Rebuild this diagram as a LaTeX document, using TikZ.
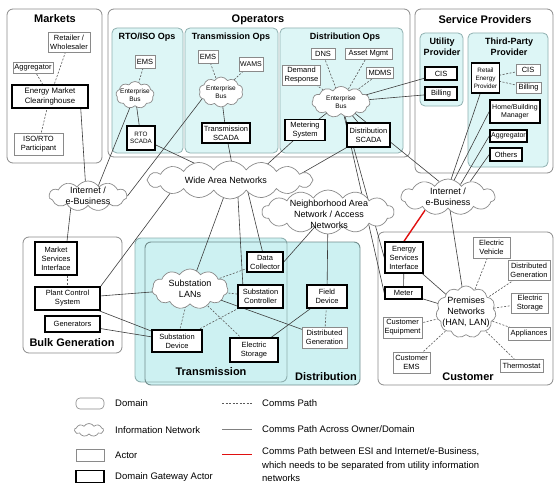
\documentclass[tikz,border=0pt]{standalone}
\usepackage{fontspec}
\setmainfont{Liberation Sans}
\usetikzlibrary{shapes.symbols,calc}
\pgfdeclarelayer{domains}
\pgfdeclarelayer{links}
\pgfsetlayers{domains,links,main}

\definecolor{domline}{HTML}{8A8A8A}
\definecolor{subfill}{HTML}{DDF6F6}
\definecolor{subline}{HTML}{8FB0B0}
\definecolor{tdfill}{HTML}{CDF1F2}
\definecolor{linkgray}{HTML}{3C3C3C}
\definecolor{dashgray}{HTML}{5A5A5A}
\definecolor{esired}{HTML}{E01010}

\tikzset{
  wh/.style 2 args={minimum width=#1pt, minimum height=#2pt},
  domainbox/.style={draw=domline, line width=0.8pt, rounded corners=6pt, fill=white},
  subbox/.style={draw=subline, line width=0.8pt, rounded corners=5pt, fill=subfill},
  domtitle/.style={font=\fontsize{11}{12}\selectfont\bfseries, inner sep=0pt},
  subtitle/.style={font=\fontsize{9}{10.5}\selectfont\bfseries, inner sep=0pt, align=center},
  actor/.style={draw=domline, line width=0.6pt, fill=white, inner sep=0pt, align=center,
    font=\fontsize{7.5}{9}\selectfont},
  gateway/.style={actor, draw=black, line width=1.5pt},
  small/.style={font=\fontsize{7}{8.6}\selectfont},
  netcloud/.style={cloud, cloud puffs=12, cloud puff arc=115, cloud ignores aspect,
    draw=domline, line width=0.7pt, fill=white, inner sep=0pt},
  cloudtext/.style={align=center, inner sep=0pt, font=\fontsize{9}{11}\selectfont},
  bustext/.style={align=center, inner sep=0pt, font=\fontsize{6.5}{8}\selectfont},
  link/.style={draw=linkgray, line width=0.6pt},
  comms/.style={draw=dashgray, line width=0.6pt, dash pattern=on 2pt off 1.5pt},
  esilink/.style={draw=esired, line width=1.4pt},
  legendtext/.style={anchor=west, inner sep=0pt, font=\fontsize{9.5}{13.5}\selectfont, align=left},
}

\begin{document}
\begin{tikzpicture}[x=1pt,y=-1pt]
\useasboundingbox (0,0) rectangle (554,487);

% ---------------- domains ----------------
\begin{pgfonlayer}{domains}
  \draw[domainbox] (7,9) rectangle (102,163);      % Markets
  \draw[domainbox] (108,9) rectangle (410,157);    % Operators
  \draw[subbox] (112,28) rectangle (183,153);
  \draw[subbox] (185,28) rectangle (278,153);
  \draw[subbox] (280,28) rectangle (403,153);
  \draw[domainbox] (415,9) rectangle (553,173);    % Service Providers
  \draw[subbox] (420,33) rectangle (463,106);
  \draw[subbox] (468,33) rectangle (548,167);
  \draw[domainbox] (23,237) rectangle (122,353);   % Bulk Generation
  \draw[domainbox] (378,232) rectangle (553,385);  % Customer
  % Transmission and Distribution overlap
  \fill[tdfill, rounded corners=6pt] (135,238) rectangle (287,382);
  \fill[tdfill, rounded corners=6pt] (145,242) rectangle (360,385);
  \draw[subline, line width=0.9pt, rounded corners=6pt] (135,238) rectangle (287,382);
  \draw[subline!80!black, line width=0.9pt, rounded corners=6pt] (145,242) rectangle (360,385);
\end{pgfonlayer}

% ---------------- titles ----------------
\node[domtitle] (t-markets) at (55,19) {Markets};
\node[domtitle] (t-ops) at (258,20) {Operators};
\node[subtitle] (t-rto) at (147,37) {RTO/ISO Ops};
\node[subtitle] (t-tops) at (231,37) {Transmission Ops};
\node[subtitle] (t-dops) at (345,37) {Distribution Ops};
\node[domtitle] (t-sp) at (485,20) {Service Providers};
\node[subtitle] (t-up) at (442,47) {Utility\\Provider};
\node[subtitle] (t-tp) at (509,47) {Third-Party\\Provider};
\node[domtitle] (t-bulk) at (72,343) {Bulk Generation};
\node[domtitle] (t-trans) at (211,372) {Transmission};
\node[domtitle] (t-dist) at (326,377) {Distribution};
\node[domtitle] (t-cust) at (468,377) {Customer};

% ---------------- Markets ----------------
\node[actor, wh={42}{20}] (ret) at (69,42) {Retailer /\\Wholesaler};
\node[actor, wh={40}{11}] (agg1) at (33,68) {Aggregator};
\node[gateway, wh={76}{23}, font=\fontsize{7.8}{9.6}\selectfont] (emc) at (50,96.5) {Energy Market\\Clearinghouse};
\node[actor, wh={49}{22}] (iso) at (38.5,144) {ISO/RTO\\Participant};

% ---------------- Operators ----------------
\node[actor, wh={20}{13}] (ems1) at (145,61.5) {EMS};
\node[netcloud, cloud puffs=9, wh={38}{27}] (bus1) at (135,95) {};
\node[bustext] (bus1-t) at (bus1) {Enterprise\\Bus};
\node[gateway, wh={28}{24}, font=\fontsize{6.3}{7.6}\selectfont] (rtoscada) at (141,138) {RTO\\SCADA};

\node[actor, wh={20}{13}] (ems2) at (208,56.5) {EMS};
\node[actor, small, wh={24}{14}] (wams) at (251,64) {WAMS};
\node[netcloud, cloud puffs=10, wh={44}{30}] (bus2) at (221,92) {};
\node[bustext] (bus2-t) at (bus2) {Enterprise\\Bus};
\node[gateway, wh={48}{20}] (tscada) at (226,133) {Transmission\\SCADA};

\node[actor, wh={24}{11}] (dns) at (323,54) {DNS};
\node[actor, wh={47}{11}] (asset) at (368.5,54) {Asset Mgmt};
\node[actor, wh={38}{20}] (dr) at (301.5,75) {Demand\\Response};
\node[actor, wh={27}{11}] (mdms) at (380,73) {MDMS};
\node[netcloud, cloud puffs=11, wh={58}{31}] (bus3) at (341,102) {};
\node[bustext] (bus3-t) at (bus3) {Enterprise\\Bus};
\node[gateway, wh={40}{21}] (msys) at (305,130) {Metering\\System};
\node[gateway, wh={43}{24}] (dscada) at (368.5,135) {Distribution\\SCADA};

% ---------------- Service Providers ----------------
\node[gateway, wh={32}{13}] (cis1) at (441,73.5) {CIS};
\node[gateway, wh={32}{13}] (bill1) at (441,93.5) {Billing};
\node[gateway, wh={28}{30}, font=\fontsize{6.3}{7.8}\selectfont] (rep) at (485.5,78) {Retail\\Energy\\Provider};
\node[actor, wh={24}{11}] (cis2) at (528,69.5) {CIS};
\node[actor, wh={25}{11}] (bill2) at (528.5,88) {Billing};
\node[gateway, small, wh={50}{23}] (hbm) at (515,111.5) {Home/Building\\Manager};
\node[gateway, small, wh={37}{12}] (agg2) at (508.5,136) {Aggregator};
\node[gateway, wh={32}{13}] (others) at (506,154.5) {Others};

% ---------------- information networks ----------------
\node[netcloud, cloud puffs=11, wh={78}{30}] (inet1) at (88,196) {};
\node[cloudtext] (inet1-t) at (inet1) {Internet /\\e-Business};
\node[netcloud, cloud puffs=11, wh={94}{36}] (inet2) at (448,197) {};
\node[cloudtext] (inet2-t) at (inet2) {Internet /\\e-Business};
\node[netcloud, cloud puffs=16, wh={166}{38}] (wan) at (230,180) {};
\node[cloudtext] (wan-t) at (226,180) {Wide Area Networks};
\node[netcloud, cloud puffs=14, wh={132}{44}] (nan) at (328,212) {};
\node[cloudtext] (nan-t) at (329,214) {Neighborhood Area\\Network / Access\\Networks};
\node[netcloud, cloud puffs=11, wh={76}{40}] (lans) at (190,289) {};
\node[cloudtext] (lans-t) at (lans) {Substation\\LANs};
\node[netcloud, cloud puffs=11, wh={60}{52}] (prem) at (466,312) {};
\node[cloudtext] (prem-t) at (prem) {Premises\\Networks\\(HAN, LAN)};

% ---------------- Bulk Generation ----------------
\node[gateway, wh={42}{33}] (msi) at (56,258.5) {Market\\Services\\Interface};
\node[gateway, wh={65}{23}] (pcs) at (67.5,298.5) {Plant Control\\System};
\node[gateway, wh={55}{16}] (gen) at (72.5,324) {Generators};

% ---------------- Transmission / Distribution ----------------
\node[gateway, wh={36}{20}] (dc) at (265,262) {Data\\Collector};
\node[gateway, wh={45}{23}] (sc) at (260.5,296.5) {Substation\\Controller};
\node[gateway, wh={40}{23}] (fd) at (327,296.5) {Field\\Device};
\node[gateway, wh={50}{22}] (sd) at (177,341) {Substation\\Device};
\node[gateway, wh={48}{24}] (es) at (254,350) {Electric\\Storage};
\node[actor, wh={45}{21}] (dg) at (324.5,337.5) {Distributed\\Generation};

% ---------------- Customer ----------------
\node[gateway, wh={38}{31}] (esi) at (404,257.5) {Energy\\Services\\Interface};
\node[gateway, wh={37}{12}] (meter) at (403.5,293) {Meter};
\node[actor, wh={37}{21}] (ev) at (491.5,247.5) {Electric\\Vehicle};
\node[actor, wh={42}{20}] (cdg) at (529,270) {Distributed\\Generation};
\node[actor, wh={37}{20}] (ces) at (530,303) {Electric\\Storage};
\node[actor, wh={42}{13}] (app) at (529,334) {Appliances};
\node[actor, wh={43}{13}] (thermo) at (521.5,366) {Thermostat};
\node[actor, wh={39}{21}] (ceq) at (402.5,327.5) {Customer\\Equipment};
\node[actor, wh={37}{21}] (cems) at (411.5,362.5) {Customer\\EMS};

% ---------------- connectors ----------------
\begin{pgfonlayer}{links}
  % comms paths inside a domain
  \draw[comms] (agg1.center) -- (emc.center);
  \draw[comms] (ret.center) -- (emc.center);
  \draw[comms] (emc.center) -- (iso.center);
  \draw[comms] (ems1.center) -- (bus1.center);
  \draw[comms] (ems2.center) -- (bus2.center);
  \draw[comms] (wams.center) -- (bus2.center);
  \draw[comms] (dns.center) -- (bus3.center);
  \draw[comms] (asset.center) -- (bus3.center);
  \draw[comms] (dr.center) -- (bus3.center);
  \draw[comms] (mdms.center) -- (bus3.center);
  \draw[comms] (rep.center) -- (cis2.center);
  \draw[comms] (rep.center) -- (bill2.center);
  \draw[comms] (msi.south -| pcs.north) -- (pcs.north);
  \draw[comms] (lans.center) -- (dc.center);
  \draw[comms] (lans.center) -- (sc.center);
  \draw[comms] (lans.center) -- (sd.center);
  \draw[comms] (lans.center) -- (es.center);
  \draw[comms] (sc.center) -- (sd.center);
  \draw[comms] (fd.center) -- (dg.center);
  \foreach \d in {ev,cdg,ces,app,thermo,ceq,cems}
    \draw[comms] (prem.center) -- (\d.center);

  % comms paths across owner / domain
  \draw[link] (bus1.center) -- (rtoscada.center);
  \draw[link] (bus2.center) -- (tscada.center);
  \draw[link] (bus3.center) -- (msys.center);
  \draw[link] (bus3.center) -- (dscada.center);
  \draw[link] ([xshift=-8pt]emc.south east) -- (inet1.100);
  \draw[link] (bus1.center) -- (inet1.45);
  \draw[link] (bus2.200) -- (inet1.east);
  \draw[link] ([xshift=-17pt]inet1.south) -- ([xshift=11pt]msi.north);
  \draw[link] (rtoscada.center) -- (wan.center);
  \draw[link] (tscada.center) -- ([xshift=5pt]wan.center);
  \draw[link] (msys.center) -- ([xshift=20pt]wan.center);
  \draw[link] (dscada.center) -- ([xshift=60pt]wan.center);
  \draw[link] (bus3.center) -- (cis1.center);
  \draw[link] (bus3.center) -- (bill1.center);
  \draw[link] (bus3.center) -- (inet2.120);
  \draw[link] (bus3.center) -- (esi.west);
  \draw[link] (bus3.center) -- (meter.west);
  \draw[link] (rep.center) -- (inet2.80);
  \draw[link] (hbm.west) -- (inet2.70);
  \draw[link] (agg2.west) -- (inet2.45);
  \draw[link] (others.west) -- (inet2.35);
  \draw[link] (inet2.center) -- (prem.center);
  \draw[link] ([xshift=-50pt]wan.center) -- (pcs.north east);
  \draw[link] (wan.center) -- (lans.center);
  \draw[link] ([xshift=7pt]wan.center) -- ([xshift=-17pt]sc.center);
  \draw[link] ([xshift=15pt]wan.center) -- (dc.center);
  \draw[link] (pcs.center) -- (lans.center);
  \draw[link] (pcs.center) -- (sd.center);
  \draw[link] (gen.center) -- (sd.center);
  \draw[link] (dc.east) -- (nan.center);
  \draw[link] (nan.center) -- (fd.center);
  \draw[link] (lans.center) -- (dg.center);
  \draw[link] (fd.center) -- (es.center);
  \draw[link] (esi.center) -- (meter.center);
  \draw[link] (esi.center) -- (prem.center);
  \draw[link] (meter.center) -- (prem.center);
  \draw[esilink] (inet2.210) -- (esi.north);
\end{pgfonlayer}

% ---------------- legend ----------------
\node[actor, rounded corners=4pt, wh={28}{11}] (lg-dom) at (90,403.5) {};
\node[netcloud, cloud puffs=9, wh={29}{13}] (lg-cloud) at (89,430) {};
\node[actor, wh={28}{12}] (lg-actor) at (90,455) {};
\node[gateway, wh={28}{12}] (lg-gate) at (90,476.5) {};
\node[legendtext] (lg-t1) at (115,403.5) {Domain};
\node[legendtext] (lg-t2) at (115,430) {Information Network};
\node[legendtext] (lg-t3) at (115,455) {Actor};
\node[legendtext] (lg-t4) at (115,477) {Domain Gateway Actor};

\coordinate (lg-p1) at (222,403.5);
\coordinate (lg-p2) at (252,403.5);
\coordinate (lg-q1) at (222,429.5);
\coordinate (lg-q2) at (252,429.5);
\coordinate (lg-r1) at (222,454.5);
\coordinate (lg-r2) at (252,454.5);
\draw[comms] (lg-p1) -- (lg-p2);
\draw[draw=gray, line width=1.3pt] (lg-q1) -- (lg-q2);
\draw[esilink] (lg-r1) -- (lg-r2);
\node[legendtext] (lg-t5) at (262,403.5) {Comms Path};
\node[legendtext] (lg-t6) at (262,429) {Comms Path Across Owner/Domain};
\node[legendtext, anchor=north west] (lg-t7) at (262,447.5)
  {Comms Path between ESI and Internet/e-Business,\\which needs to be separated from utility information\\networks};
\end{tikzpicture}
\end{document}
